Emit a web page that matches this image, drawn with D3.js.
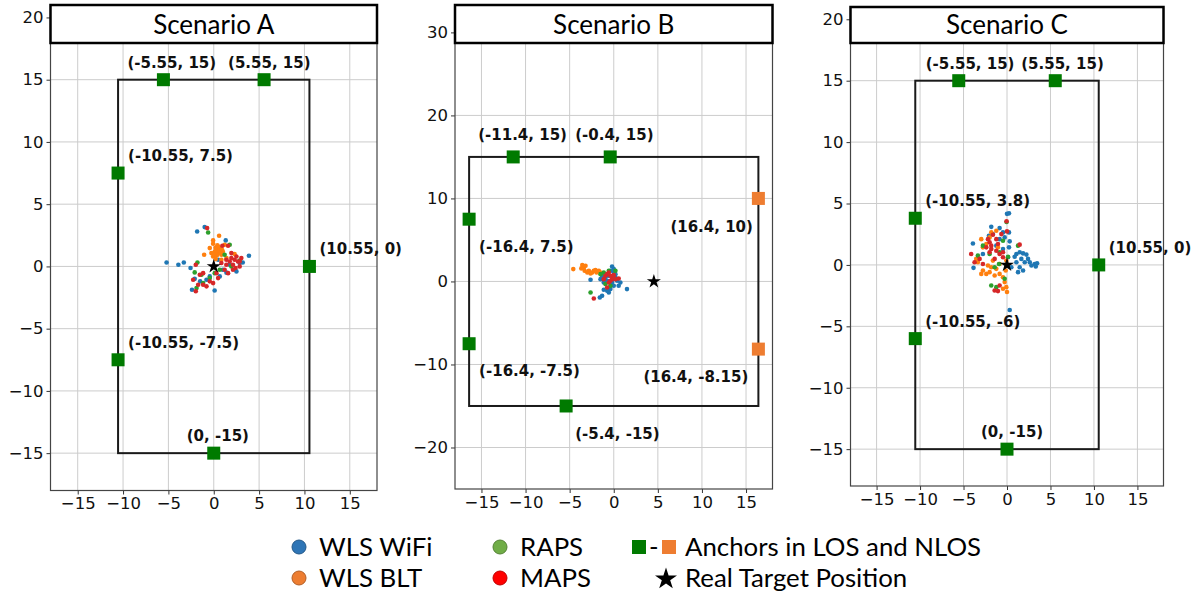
<!DOCTYPE html>
<html>
<head>
<meta charset="utf-8">
<script src="https://cdn.jsdelivr.net/npm/d3@7"></script>
<style>
  body { margin: 0; background: #fff; }
  svg { display: block; }
</style>
</head>
<body>
<svg id="chart" width="1200" height="598"></svg>
<script>
// ---- data ----
const scenarios = ["Scenario A", "Scenario B", "Scenario C"]

const xTicks = [-15, -10, -5, 0, 5, 10, 15]
const yTicksA = [-15, -10, -5, 0, 5, 10, 15, 20]
const yTicksB = [-20, -10, 0, 10, 20, 30]
const yTicksC = [-15, -10, -5, 0, 5, 10, 15, 20]

const xDomain = [-18, 18]
const yDomainA = [-18, 21]
const yDomainB = [-25, 33.3]
const yDomainC = [-18, 21]

// room outline [xmin, xmax, ymin, ymax]
const roomA = [-10.55, 10.55, -15, 15]
const roomB = [-16.4, 16.4, -15, 15]
const roomC = [-10.55, 10.55, -15, 15]

const anchorsA = [[-5.55, 15], [5.55, 15], [-10.55, 7.5], [10.55, 0], [-10.55, -7.5], [0, -15]]
const anchorsB = [[-11.4, 15], [-0.4, 15], [-16.4, 7.5], [16.4, 10], [-16.4, -7.5], [16.4, -8.15], [-5.4, -15]]
const anchorsC = [[-5.55, 15], [5.55, 15], [-10.55, 3.8], [10.55, 0], [-10.55, -6], [0, -15]]
const nlosA = [false, false, false, false, false, false]
const nlosB = [false, false, false, true, false, true, false]
const nlosC = [false, false, false, false, false, false]

const targetA = [0, 0]
const targetB = [4.55, 0]
const targetC = [0, 0]

const wifiA = [[-5.2, 0.32], [-3.9, 0.13], [-3.3, 0.32], [-1.83, 2.8], [-1.0, 3.16], [-2.56, -0.13], [1.32, 2.09],
  [3.88, 0.86], [3.2, 0.32], [-2.1, -1.0], [-2.4, -1.87], [0.1, -1.93], [-0.44, -0.8], [1.0, -0.27], [1.4, -0.5],
  [2.5, -0.4], [-1.5, -1.2], [-0.8, -1.07], [0.48, 0.54], [0.66, -0.8], [1.76, 0.13], [2.86, 0.27]]
const bltA = [[0.59, 2.46], [-0.07, 2.09], [-1.06, 0.94], [2.3, 1.0], [0.3, 1.34], [0.48, 1.07], [0.11, 1.2],
  [0.66, 1.47], [0.84, 0.94], [-0.07, 0.8], [1.0, 1.2], [-0.26, 1.07], [0.48, 1.6], [1.2, 1.74], [0.22, 0.59],
  [1.4, 0.67], [-0.44, 1.47], [0.84, 0.54], [-0.07, 1.82], [0.35, 0.9], [0.6, 1.25], [0.2, 1.5], [0.75, 1.1],
  [0.4, 1.7], [0.1, 0.95], [0.9, 1.35]]
const rapsA = [[-0.62, 2.73], [-1.8, 0.32], [-2.1, -0.48], [1.76, 1.74], [2.86, 0.48], [-1.17, -1.34], [-1.9, -1.74],
  [-0.44, -0.94], [0.66, -0.27], [1.94, 0], [0.11, -0.54], [1.2, 0.94], [-1.36, -0.67]]
const mapsA = [[-0.73, 3.08], [-1.98, 0.13], [0.95, 1.66], [1.58, 1.66], [1.94, 1.07], [2.3, 0.54], [2.67, 0.4],
  [2.86, 0], [2.12, 0.13], [1.76, 0.4], [2.5, 0.8], [1.39, 0.13], [2.12, -0.27], [1.2, -0.27], [0.84, 0.27],
  [1.39, 0.54], [1.94, 0.67], [2.86, 0.4], [-1.17, -0.54], [-1.54, -0.67], [-2.27, -1.07], [-1.72, -1.47],
  [-1.17, -1.47], [-0.8, -1.6], [-0.44, -1.2], [-1.98, -2.0], [-0.07, -1.34], [0.48, -0.94], [0.3, -0.54],
  [1.58, -0.54], [3.04, 0.67], [2.4, -0.13]]

const wifiB = [[-0.19, 1.81], [-0.38, 1.29], [0, 1.08], [-0.56, 0.68], [-0.94, 0.48], [-1.32, 0.68], [-2.63, 0.2],
  [0.19, 0.48], [0.38, 0.08], [0.56, -0.52], [0.75, -0.12], [1.5, -0.92], [0, -0.52], [-0.38, -0.92], [-0.75, -1.12],
  [-1.13, -1.0], [-1.32, -1.73], [-1.58, -1.93], [-0.56, -1.33], [-0.19, -0.12], [-1.13, -0.12], [-1.5, 0.28],
  [0, 1.49], [0.19, 0.88], [-0.75, 0.08]]
const bltB = [[-4.59, 1.49], [-3.57, 1.97], [-3.38, 1.69], [-3.2, 1.89], [-3.3, 1.29], [-3.0, 1.08], [-2.82, 1.29],
  [-2.44, 1.08], [-2.26, 1.29], [-1.95, 1.08], [-1.69, 1.29], [-2.07, 1.37], [-1.5, 1.08], [-3.68, 1.57], [-2.63, 0.96]]
const rapsB = [[-2.63, -1.33], [-1.13, 1.08], [-0.56, 1.29], [-0.38, -0.52], [0.19, 1.29], [-0.94, -0.32], [-1.5, 0.88]]
const mapsB = [[-2.26, -2.05], [-0.56, 1.08], [-0.38, 0.68], [-0.75, 0.88], [-0.19, 0.28], [-0.94, 0.68], [0.56, 0.36],
  [-0.56, -0.12], [-0.38, 0.08], [0, 0.76], [-0.75, -0.72], [0.19, 0.28], [-1.13, 0.28]]

const wifiC = [[0, 4.16], [0.23, 4.2], [0.31, -3.67], [-3.92, 1.75], [-3.85, -0.24], [-1.81, 3.1], [-0.85, 3.0],
  [-0.46, 2.65], [0.23, 2.65], [-0.27, 2.24], [0.31, 1.92], [0.23, 1.43], [0.12, 0.62], [1.08, 0.89], [1.46, 1.03],
  [1.85, 0.94], [2.23, 0.84], [2.42, 0.49], [2.62, 0.22], [3.19, 0.08], [3.46, 0.13], [3.31, -0.13], [2.81, -0.05],
  [1.08, 0.22], [1.46, -0.19], [1.85, -0.46], [1.27, -0.59], [0.5, -0.19], [0.88, 0.67], [1.65, 0.49], [2.04, 0.22],
  [-0.85, 2.1], [-1.23, 1.57], [-1.62, 2.51], [-0.46, 1.3], [-2.77, 0.89], [-2.08, 2.38]]
const bltC = [[-1.81, 2.65], [-2.0, 2.24], [-2.96, 2.1], [-2.77, 1.43], [-3.54, 0.49], [-3.35, 0.22], [-2.77, -0.46],
  [-2.38, -0.73], [-2.0, -0.59], [-1.81, -0.19], [-1.23, -0.32], [-0.85, -0.73], [-0.46, -1.0], [-0.27, -1.4],
  [-0.08, -1.81], [0, -2.21], [-0.46, -1.94], [-2.96, -0.73], [-1.62, 0.35], [-2.38, 1.7], [-1.04, 1.43],
  [-1.23, 2.78], [-0.08, 0.35], [-0.85, 0.08], [-2.19, -0.05], [-1.42, -0.86], [-0.15, -0.46]]
const rapsC = [[-2.77, 1.57], [-0.46, 1.97], [1.27, 1.57], [-1.81, -1.67], [-1.23, -1.81], [-0.27, -1.13], [-0.85, 1.03],
  [-2.0, 0.89], [0.12, 0.67], [-1.42, -0.19], [-3.35, 0.76], [-0.92, 0.08], [-0.05, 3.5]]
const mapsC = [[-1.62, 2.46], [-1.23, 2.1], [-2.0, 1.84], [-2.38, 1.43], [-1.81, 1.3], [-1.23, 1.16], [-0.85, 0.89],
  [-0.46, 1.03], [-4.12, 0.89], [-3.73, 0.22], [-3.15, 0.49], [-1.42, -2.08], [-1.04, -2.13], [-0.85, -1.67],
  [-1.81, 1.57], [-1.04, 1.7], [-0.46, 0.62], [-1.42, 0.49], [-2.19, 2.1], [-0.65, 2.51], [1.46, 1.65], [0, 2.73],
  [-2.0, 1.03], [-2.77, 0.08], [-0.05, 3.56]]

const legendNames = ["WLS WiFi", "WLS BLT", "RAPS", "MAPS"]
// ---- end data ----

const dotColors = ["#1f77b4", "#ff7f0e", "#2ca02c", "#d62728"]
const legendColors = ["#2e75b6", "#ed7d31", "#70ad47", "#ff0000"]
const losColor = "#007a00", nlosColor = "#ee7d31"

// label nudges in px (left edge, baseline) relative to each anchor
const nudgeA = [[-36, -12], [-36, -12], [10, -12], [10, -12], [10, -12], [-27, -12]]
const nudgeB = [[-35, -16.5], [-35, -16.5], [10, 33], [-88, 34], [10, 32], [-115, 33], [9, 33]]
const nudgeC = [[-33, -12], [-34, -12], [10, -12], [10, -12], [10, -12], [-26, -12]]

const svg = d3.select("#chart")

const panels = [
  { title: scenarios[0], box: [50.5, 377, 5, 490.5], yDom: yDomainA, yTicks: yTicksA, room: roomA,
    anchors: anchorsA, nlos: nlosA, nudge: nudgeA, target: targetA, series: [wifiA, bltA, rapsA, mapsA] },
  { title: scenarios[1], box: [455, 772.5, 5, 489], yDom: yDomainB, yTicks: yTicksB, room: roomB,
    anchors: anchorsB, nlos: nlosB, nudge: nudgeB, target: targetB, series: [wifiB, bltB, rapsB, mapsB] },
  { title: scenarios[2], box: [850.5, 1163.5, 7, 486], yDom: yDomainC, yTicks: yTicksC, room: roomC,
    anchors: anchorsC, nlos: nlosC, nudge: nudgeC, target: targetC, series: [wifiC, bltC, rapsC, mapsC] }
]

function drawPanel(p) {
  const [l, r, t, b] = p.box
  const x = d3.scaleLinear().domain(xDomain).range([l, r])
  const y = d3.scaleLinear().domain(p.yDom).range([b, t])
  const g = svg.append("g")

  // grid
  g.append("g").selectAll("line").data(xTicks).join("line")
    .attr("x1", d => x(d)).attr("x2", d => x(d)).attr("y1", t).attr("y2", b)
    .attr("stroke", "#cccccc").attr("stroke-width", 1)
  g.append("g").selectAll("line").data(p.yTicks).join("line")
    .attr("x1", l).attr("x2", r).attr("y1", d => y(d)).attr("y2", d => y(d))
    .attr("stroke", "#cccccc").attr("stroke-width", 1)

  // axes
  const xa = g.append("g").attr("transform", `translate(0,${b})`)
    .call(d3.axisBottom(x).tickValues(xTicks).tickSize(4).tickPadding(3))
  const ya = g.append("g").attr("transform", `translate(${l},0)`)
    .call(d3.axisLeft(y).tickValues(p.yTicks).tickSize(4).tickPadding(3))
  for (const a of [xa, ya]) {
    a.select(".domain").remove()
    a.selectAll(".tick line").attr("stroke", "#333")
    a.selectAll("text").attr("font-family", "DejaVu Sans").attr("font-size", 16.5).attr("fill", "#111")
  }

  // frame
  g.append("rect").attr("x", l).attr("y", t).attr("width", r - l).attr("height", b - t)
    .attr("fill", "none").attr("stroke", "#444").attr("stroke-width", 1.2)

  // room
  const [rx0, rx1, ry0, ry1] = p.room
  g.append("rect").attr("x", x(rx0)).attr("y", y(ry1))
    .attr("width", x(rx1) - x(rx0)).attr("height", y(ry0) - y(ry1))
    .attr("fill", "none").attr("stroke", "#1a1a1a").attr("stroke-width", 2)

  // estimates
  p.series.forEach((pts, i) => {
    g.append("g").selectAll("circle").data(pts).join("circle")
      .attr("cx", d => x(d[0])).attr("cy", d => y(d[1])).attr("r", 2.3)
      .attr("fill", dotColors[i])
  })

  // target
  g.append("path").attr("d", d3.symbol(d3.symbolStar, 62)())
    .attr("transform", `translate(${x(p.target[0])},${y(p.target[1])})`)
    .attr("fill", "#000")

  // anchors
  const s = 13
  g.append("g").selectAll("rect").data(p.anchors).join("rect")
    .attr("x", d => x(d[0]) - s / 2).attr("y", d => y(d[1]) - s / 2)
    .attr("width", s).attr("height", s)
    .attr("fill", (d, i) => p.nlos[i] ? nlosColor : losColor)
  g.append("g").selectAll("text").data(p.anchors).join("text")
    .attr("x", (d, i) => x(d[0]) + p.nudge[i][0])
    .attr("y", (d, i) => y(d[1]) + p.nudge[i][1])
    .attr("font-family", "DejaVu Sans").attr("font-weight", "bold").attr("font-size", 15)
    .attr("fill", "#111")
    .text(d => `(${d[0]}, ${d[1]})`)

  // title box
  g.append("rect").attr("x", l).attr("y", t).attr("width", r - l).attr("height", 43 - t)
    .attr("fill", "#fff").attr("stroke", "#000").attr("stroke-width", 2.5)
  g.append("text").attr("x", (l + r) / 2).attr("y", 34).attr("text-anchor", "middle")
    .attr("font-family", "Lato").attr("font-size", 26).attr("fill", "#000")
    .text(p.title)
}

panels.forEach(drawPanel)

// legend
const lg = svg.append("g").attr("font-family", "Lato").attr("font-size", 25.8).attr("fill", "#000")
const rowY = [547, 578]
const colX = [299, 500]
legendNames.forEach((name, i) => {
  const cx = colX[Math.floor(i / 2)], cy = rowY[i % 2]
  lg.append("circle").attr("cx", cx).attr("cy", cy).attr("r", 7)
    .attr("fill", legendColors[i]).attr("stroke", d3.color(legendColors[i]).darker(0.8)).attr("stroke-width", 1)
  lg.append("text").attr("x", cx + 20).attr("y", cy + 9).text(name)
})
lg.append("rect").attr("x", 632).attr("y", rowY[0] - 7).attr("width", 14).attr("height", 14).attr("fill", losColor)
lg.append("text").attr("x", 649).attr("y", rowY[0] + 9).text("-")
lg.append("rect").attr("x", 662).attr("y", rowY[0] - 7).attr("width", 14).attr("height", 14).attr("fill", nlosColor)
lg.append("text").attr("x", 685).attr("y", rowY[0] + 9).text("Anchors in LOS and NLOS")
lg.append("path").attr("d", d3.symbol(d3.symbolStar, 150)())
  .attr("transform", `translate(666,${rowY[1] + 1})`).attr("fill", "#000")
lg.append("text").attr("x", 685).attr("y", rowY[1] + 9).text("Real Target Position")
</script>
</body>
</html>
